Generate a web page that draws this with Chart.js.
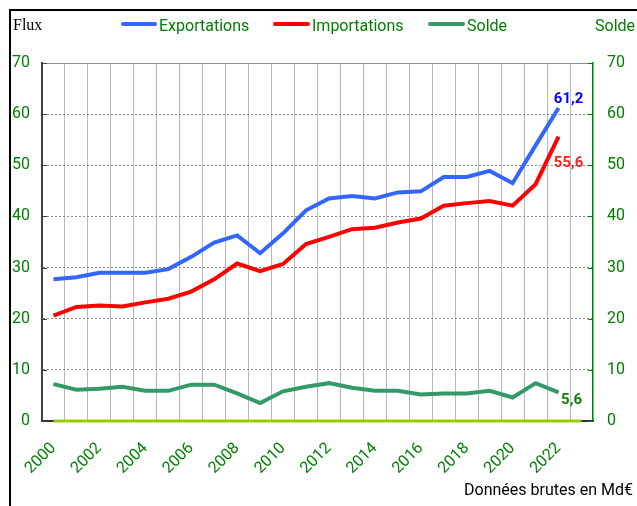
<!DOCTYPE html>
<html>
<head>
<meta charset="utf-8">
<script src="https://cdn.jsdelivr.net/npm/chart.js@4/dist/chart.umd.min.js"></script>
<style>
html,body{margin:0;padding:0;background:#fff;}
#wrap{position:relative;width:637px;height:506px;overflow:hidden;font-family:Roboto,sans-serif;}
#c{position:absolute;left:0;top:0;}
.t{position:absolute;white-space:nowrap;font-size:16px;line-height:16px;}
.g{color:#008000;}
.lg{position:absolute;height:4px;border-radius:2px;}
#frame{position:absolute;left:9px;top:9px;width:640px;height:520px;border-left:2px solid #000;border-top:2px solid #000;}
</style>
</head>
<body>
<div id="wrap">
  <canvas id="c" width="637" height="506"></canvas>
  <div id="frame"></div>
  <div class="t" style="left:13px;top:17px;font-family:'Liberation Serif',serif;color:#000;">Flux</div>
  <div class="lg" style="left:121px;top:22px;width:36px;background:#3366ff;"></div>
  <div class="t g" style="left:159px;top:18px;">Exportations</div>
  <div class="lg" style="left:273px;top:22px;width:37px;background:#ff0000;"></div>
  <div class="t g" style="left:312px;top:18px;">Importations</div>
  <div class="lg" style="left:428px;top:22px;width:37px;background:#339966;"></div>
  <div class="t g" style="left:467px;top:18px;">Solde</div>
  <div class="t g" style="left:595px;top:18px;">Solde</div>
  <div class="t" style="left:464px;top:482px;color:#000;">Données brutes en Md€</div>
</div>
<script>
const years = ["2000","2001","2002","2003","2004","2005","2006","2007","2008","2009","2010","2011","2012","2013","2014","2015","2016","2017","2018","2019","2020","2021","2022","2023"];
const exportations = [27.7,28.1,29.0,29.0,29.0,29.7,32.1,34.9,36.3,32.8,36.7,41.2,43.5,44.0,43.5,44.7,44.9,47.7,47.7,48.9,46.5,53.9,61.2,null];
const importations = [20.6,22.3,22.6,22.4,23.2,23.9,25.3,27.7,30.8,29.3,30.7,34.6,36.0,37.5,37.8,38.8,39.6,42.1,42.6,43.0,42.1,46.3,55.6,null];
const solde = [7.2,6.1,6.3,6.7,5.9,5.9,7.1,7.1,5.4,3.5,5.8,6.7,7.4,6.5,5.9,5.9,5.2,5.4,5.4,5.9,4.6,7.4,5.6,null];
const zeroLine = [0,0,0,0,0,0,0,0,0,0,0,0,0,0,0,0,0,0,0,0,0,0,0,0];
const yTicks = [0,10,20,30,40,50,60,70];
const lastLabels = ["61,2","55,6","5,6"];

const labelPlugin = {
  id: 'extras',
  afterDatasetsDraw(chart) {
    const ctx = chart.ctx;
    const x = chart.scales.x, y = chart.scales.y, y1 = chart.scales.y1;
    const a = chart.chartArea;
    ctx.save();
    // solid top border at 70
    ctx.strokeStyle = '#8c8c8c';
    ctx.lineWidth = 1;
    const pt = Math.round(y.getPixelForValue(70)) + 0.5;
    ctx.beginPath(); ctx.moveTo(a.left, pt); ctx.lineTo(a.right, pt); ctx.stroke();
    // inner tick marks
    yTicks.forEach(v => {
      const py = Math.round(y.getPixelForValue(v)) + 0.5;
      ctx.strokeStyle = '#404040';
      ctx.beginPath(); ctx.moveTo(a.left, py); ctx.lineTo(a.left + 5, py); ctx.stroke();
      ctx.strokeStyle = '#008000';
      ctx.beginPath(); ctx.moveTo(a.right, py); ctx.lineTo(a.right - 5, py); ctx.stroke();
    });
    // end labels
    const i = 22;
    ctx.font = 'bold 15px Roboto, sans-serif';
    ctx.textAlign = 'center';
    ctx.textBaseline = 'middle';
    const px = x.getPixelForValue(i);
    ctx.fillStyle = '#0000ff';
    ctx.fillText(lastLabels[0], px + 10, y.getPixelForValue(exportations[i]) - 9);
    ctx.fillStyle = '#ff2020';
    ctx.fillText(lastLabels[1], px + 10, y.getPixelForValue(importations[i]) + 27);
    ctx.fillStyle = '#108010';
    ctx.fillText(lastLabels[2], px + 13, y1.getPixelForValue(solde[i]) + 8);
    ctx.restore();
  }
};

new Chart(document.getElementById('c'), {
  type: 'line',
  data: {
    labels: years,
    datasets: [
      {label:'Zero', data: zeroLine, yAxisID:'y1', borderColor:'#99cc00', borderWidth:3, pointRadius:0, clip:false, order:4},
      {label:'Solde', data: solde, yAxisID:'y1', borderColor:'#339966', borderWidth:4, pointRadius:0, order:3},
      {label:'Importations', data: importations, yAxisID:'y', borderColor:'#ff0000', borderWidth:4, pointRadius:0, order:2},
      {label:'Exportations', data: exportations, yAxisID:'y', borderColor:'#3366ff', borderWidth:4, pointRadius:0, order:1}
    ]
  },
  options: {
    responsive:false,
    animation:false,
    devicePixelRatio:1,
    layout:{padding:{top:63,left:0,right:0,bottom:0}},
    plugins:{legend:{display:false}, tooltip:{enabled:false}},
    scales:{
      x:{
        type:'category',
        offset:true,
        grid:{offset:true, color:'#b8b8b8', lineWidth:1, drawTicks:false},
        border:{display:true, color:'#303030', width:2},
        ticks:{
          autoSkip:false, maxRotation:45, minRotation:45, padding:18,
          color:'#008000', font:{family:'Roboto', size:16},
          callback:function(v,i){ const l = years[i]; return (parseInt(l) % 2 === 0 && parseInt(l) <= 2022) ? l : ''; }
        },
        afterFit:function(s){ s.height = 85; }
      },
      y:{
        position:'left', min:0, max:70,
        grid:{color:'#8c8c8c', lineWidth:1, drawTicks:false},
        border:{display:true, color:'#404040', width:2, dash:[2,2]},
        ticks:{stepSize:10, padding:12, color:'#008000', font:{family:'Roboto', size:16}},
        afterFit:function(s){ s.width = 42; }
      },
      y1:{
        position:'right', min:0, max:70,
        grid:{drawOnChartArea:false, drawTicks:false},
        border:{display:true, color:'#008000', width:1.5},
        ticks:{stepSize:10, padding:14, color:'#008000', font:{family:'Roboto', size:16}},
        afterFit:function(s){ s.width = 44; }
      }
    }
  },
  plugins:[labelPlugin]
});
</script>
</body>
</html>
